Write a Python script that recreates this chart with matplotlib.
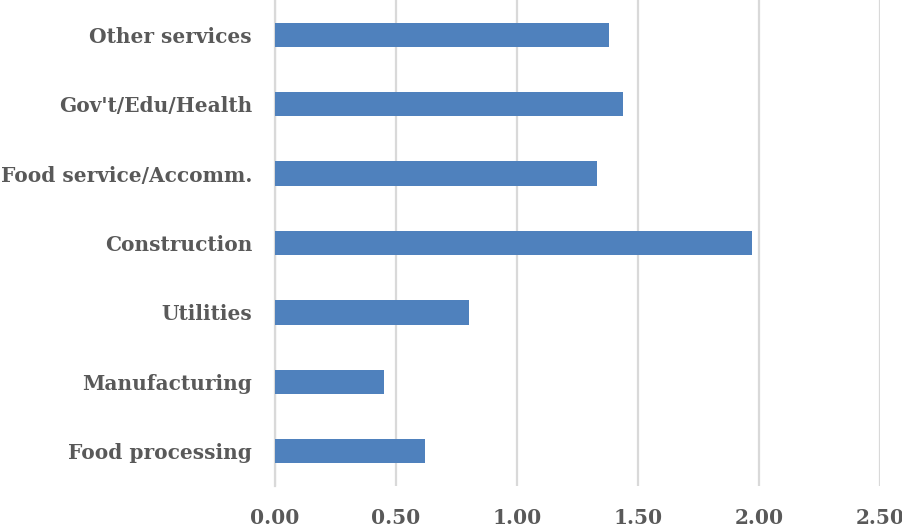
import matplotlib
matplotlib.use("Agg")
import matplotlib.pyplot as plt

categories = ["Food processing", "Manufacturing", "Utilities", "Construction",
              "Food service/Accomm.", "Gov't/Edu/Health", "Other services"]
values = [0.62, 0.45, 0.80, 1.97, 1.33, 1.44, 1.38]
xticks = [0.0, 0.5, 1.0, 1.5, 2.0, 2.5]
xtick_labels = ["0.00", "0.50", "1.00", "1.50", "2.00", "2.50"]

fig = plt.figure(figsize=(9.03, 5.29), dpi=100)
ax = fig.add_axes([275/903, 1-486/529, 605/903, 486/529])

ypos = list(range(len(categories)))
ax.barh(ypos, values, height=0.35, color="#4F81BD", zorder=3)
ax.set_ylim(-0.5, len(categories)-0.5)
ax.set_xlim(0, 2.5)
ax.set_xticks(xticks)
ax.set_xticklabels(xtick_labels)
ax.set_yticks(ypos)
ax.set_yticklabels(categories)

for lab in ax.get_xticklabels() + ax.get_yticklabels():
    lab.set_fontfamily("DejaVu Serif")
    lab.set_fontweight("bold")
    lab.set_fontsize(14.5)
    lab.set_color("#595959")

ax.grid(axis="x", color="#D9D9D9", linewidth=1.6, zorder=0)
ax.tick_params(axis="both", length=0)
ax.tick_params(axis="x", pad=16)
ax.tick_params(axis="y", pad=16.5)
for s in ["top", "right", "bottom"]:
    ax.spines[s].set_visible(False)
ax.spines["left"].set_color("#D9D9D9")
ax.spines["left"].set_linewidth(1.6)
ax.spines["left"].set_zorder(0)

fig.savefig("out.png", dpi=100)
